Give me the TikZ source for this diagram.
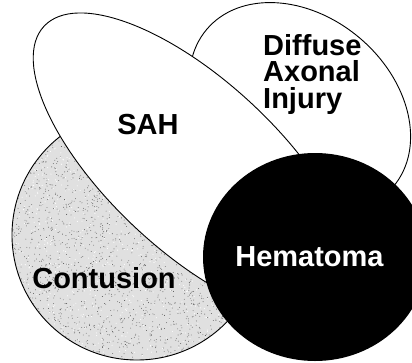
\documentclass[tikz,border=0pt]{standalone}
\usepackage{fontspec}
\setmainfont{Liberation Sans}
\begin{document}
\begin{tikzpicture}[x=1pt,y=1pt,
  outline/.style={draw=black,line width=0.9pt},
  lbl/.style={font=\fontsize{29}{26.5}\selectfont\bfseries,inner sep=0pt}]
\clip (0,0) rectangle (412,-362);
\fill[white] (0,0) rectangle (412,-362);
% Contusion (stippled)
\begin{scope}
  \clip (137,-235) circle (125);
  \fill[black!12] (137,-235) circle (125);
  \pgfmathsetseed{7}
  \foreach \i in {1,...,2600} {
    \fill[black!70] ({12+250*rnd},{-110-252*rnd}) circle (0.42);
  }
  \foreach \i in {1,...,1200} {
    \fill[white] ({12+250*rnd},{-110-252*rnd}) circle (0.55);
  }
\end{scope}
\draw[outline] (137,-235) circle (125);
% Diffuse Axonal Injury
\draw[outline,fill=white,rotate around={-40:(300,-108)}] (300,-108) ellipse [x radius=122, y radius=92];
% SAH
\draw[outline,fill=white,rotate around={-43:(194,-166)}] (194,-166) ellipse [x radius=205, y radius=85];
% Hematoma
\fill[black] (315,-257) ellipse [x radius=112, y radius=104];
% Labels
\node[lbl,anchor=base] (sah) at (148,-134) {SAH};
\node[lbl,anchor=base west,align=left] (dai) at (263,-108) {Diffuse\\Axonal\\Injury};
\node[lbl,anchor=base,text=white] (hem) at (309.5,-266) {Hematoma};
\node[lbl,anchor=base] (con) at (104,-288) {Contusion};
\end{tikzpicture}
\end{document}
